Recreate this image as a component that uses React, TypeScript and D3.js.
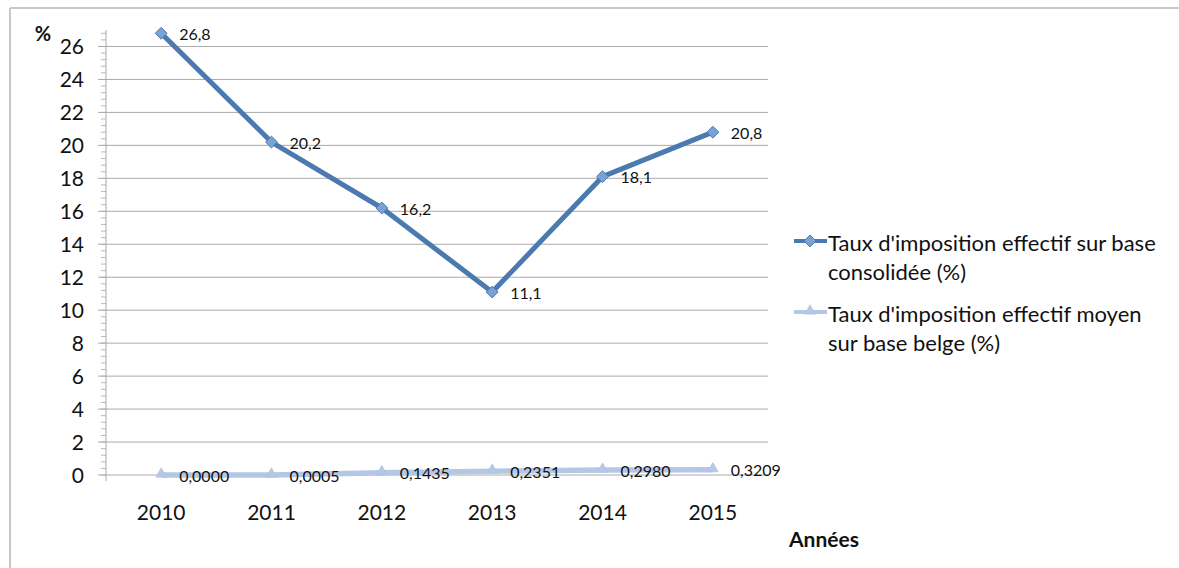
import React from "react";
import * as d3 from "d3";

const years = ["2010", "2011", "2012", "2013", "2014", "2015"];
const consolidated = [26.8, 20.2, 16.2, 11.1, 18.1, 20.8];
const consolidatedLabels = ["26,8", "20,2", "16,2", "11,1", "18,1", "20,8"];
const belgian = [0.0, 0.0005, 0.1435, 0.2351, 0.298, 0.3209];
const belgianLabels = ["0,0000", "0,0005", "0,1435", "0,2351", "0,2980", "0,3209"];
const yTicks = [0, 2, 4, 6, 8, 10, 12, 14, 16, 18, 20, 22, 24, 26];
const legendLabels = [
  ["Taux d'imposition effectif sur base", "consolidée (%)"],
  ["Taux d'imposition effectif moyen", "sur base belge (%)"],
];

const FONT = "Lato, 'Open Sans', sans-serif";
const C1 = "#4a7ab0";
const C1F = "#7aa2d4";
const C2 = "#b4c8e6";

export default function App() {
  const W = 1179, H = 568;
  const left = 106, right = 768, top = 30, bottom = 475;
  const x = d3.scaleBand().domain(years).range([left, right]);
  const y = d3.scaleLinear().domain([0, 27]).range([bottom, top]);
  const cx = (d: string) => (x(d) as number) + x.bandwidth() / 2;
  const line = d3.line<number>().x((_, i) => cx(years[i])).y((v) => y(v));
  const minor = d3.range(0, 27.01, 0.4);
  const diamond = d3.symbol().type(d3.symbolDiamond2).size(90)();
  const triangle = d3.symbol().type(d3.symbolTriangle2).size(85)();

  return (
    <svg width={W} height={H} style={{ position: "absolute", left: 0, top: 0 }} fontFamily={FONT}>
      <rect x={0} y={0} width={W} height={H} fill="#fff" />
      <line x1={10} x2={W} y1={8} y2={8} stroke="#c8c8c8" strokeWidth={2} />
      <line x1={10} x2={10} y1={8} y2={H} stroke="#c8c8c8" strokeWidth={2} />
      {/* gridlines */}
      {yTicks.filter((t) => t > 0).map((t) => (
        <line key={t} x1={left} x2={right} y1={y(t)} y2={y(t)} stroke="#aaa" strokeWidth={1} />
      ))}
      {/* minor ticks */}
      {minor.map((t, i) => (
        <line key={i} x1={left - 5} x2={left} y1={y(t)} y2={y(t)} stroke="#bbb" strokeWidth={1} />
      ))}
      {yTicks.map((t) => (
        <line key={"m" + t} x1={left - 8} x2={left} y1={y(t)} y2={y(t)} stroke="#aaa" strokeWidth={1} />
      ))}
      <line x1={left} x2={left} y1={top} y2={bottom + 6} stroke="#aaa" strokeWidth={1} />
      <line x1={left} x2={right} y1={bottom} y2={bottom} stroke="#aaa" strokeWidth={1} />
      {yTicks.map((t) => (
        <text key={"l" + t} x={84} y={y(t)} dy="0.36em" textAnchor="end" fontSize={21} fill="#111">{t}</text>
      ))}
      {years.map((yr) => (
        <text key={yr} x={cx(yr)} y={520} textAnchor="middle" fontSize={21} fill="#111">{yr}</text>
      ))}
      <text x={43} y={41} textAnchor="middle" fontSize={20} fontWeight="bold" fill="#111">%</text>
      <text x={824} y={547} textAnchor="middle" fontSize={21} fontWeight="bold" fill="#111">Années</text>

      {/* series 2 */}
      <path d={line(belgian) || ""} fill="none" stroke={C2} strokeWidth={5.5} />
      {belgian.map((v, i) => (
        <path key={"t" + i} d={triangle} transform={`translate(${cx(years[i])},${y(v) - 1})`} fill={C2} stroke="#a8bcdc" strokeWidth={0.5} />
      ))}
      {belgian.map((v, i) => (
        <text key={"bl" + i} x={cx(years[i]) + 18} y={y(v) + 1} dy="0.36em" fontSize={16} fill="#111">{belgianLabels[i]}</text>
      ))}

      {/* series 1 */}
      <path d={line(consolidated) || ""} fill="none" stroke={C1} strokeWidth={5} strokeLinejoin="round" />
      {consolidated.map((v, i) => (
        <path key={"d" + i} d={diamond} transform={`translate(${cx(years[i])},${y(v)})`} fill={C1F} stroke={C1} strokeWidth={1} />
      ))}
      {consolidated.map((v, i) => (
        <text key={"cl" + i} x={cx(years[i]) + 18} y={y(v) + 1} dy="0.36em" fontSize={16} fill="#111">{consolidatedLabels[i]}</text>
      ))}

      {/* legend */}
      <g>
        <line x1={794} x2={827} y1={241} y2={241} stroke={C1} strokeWidth={4} />
        <path d={diamond} transform="translate(810,241)" fill={C1F} stroke={C1} strokeWidth={1} />
        <text x={828} y={251} fontSize={22} fill="#111">{legendLabels[0][0]}</text>
        <text x={828} y={280} fontSize={22} fill="#111">{legendLabels[0][1]}</text>
        <line x1={794} x2={827} y1={312} y2={312} stroke={C2} strokeWidth={4} />
        <path d={triangle} transform="translate(810,311)" fill={C2} stroke="#a8bcdc" strokeWidth={0.5} />
        <text x={828} y={322} fontSize={22} fill="#111">{legendLabels[1][0]}</text>
        <text x={828} y={351} fontSize={22} fill="#111">{legendLabels[1][1]}</text>
      </g>
    </svg>
  );
}
